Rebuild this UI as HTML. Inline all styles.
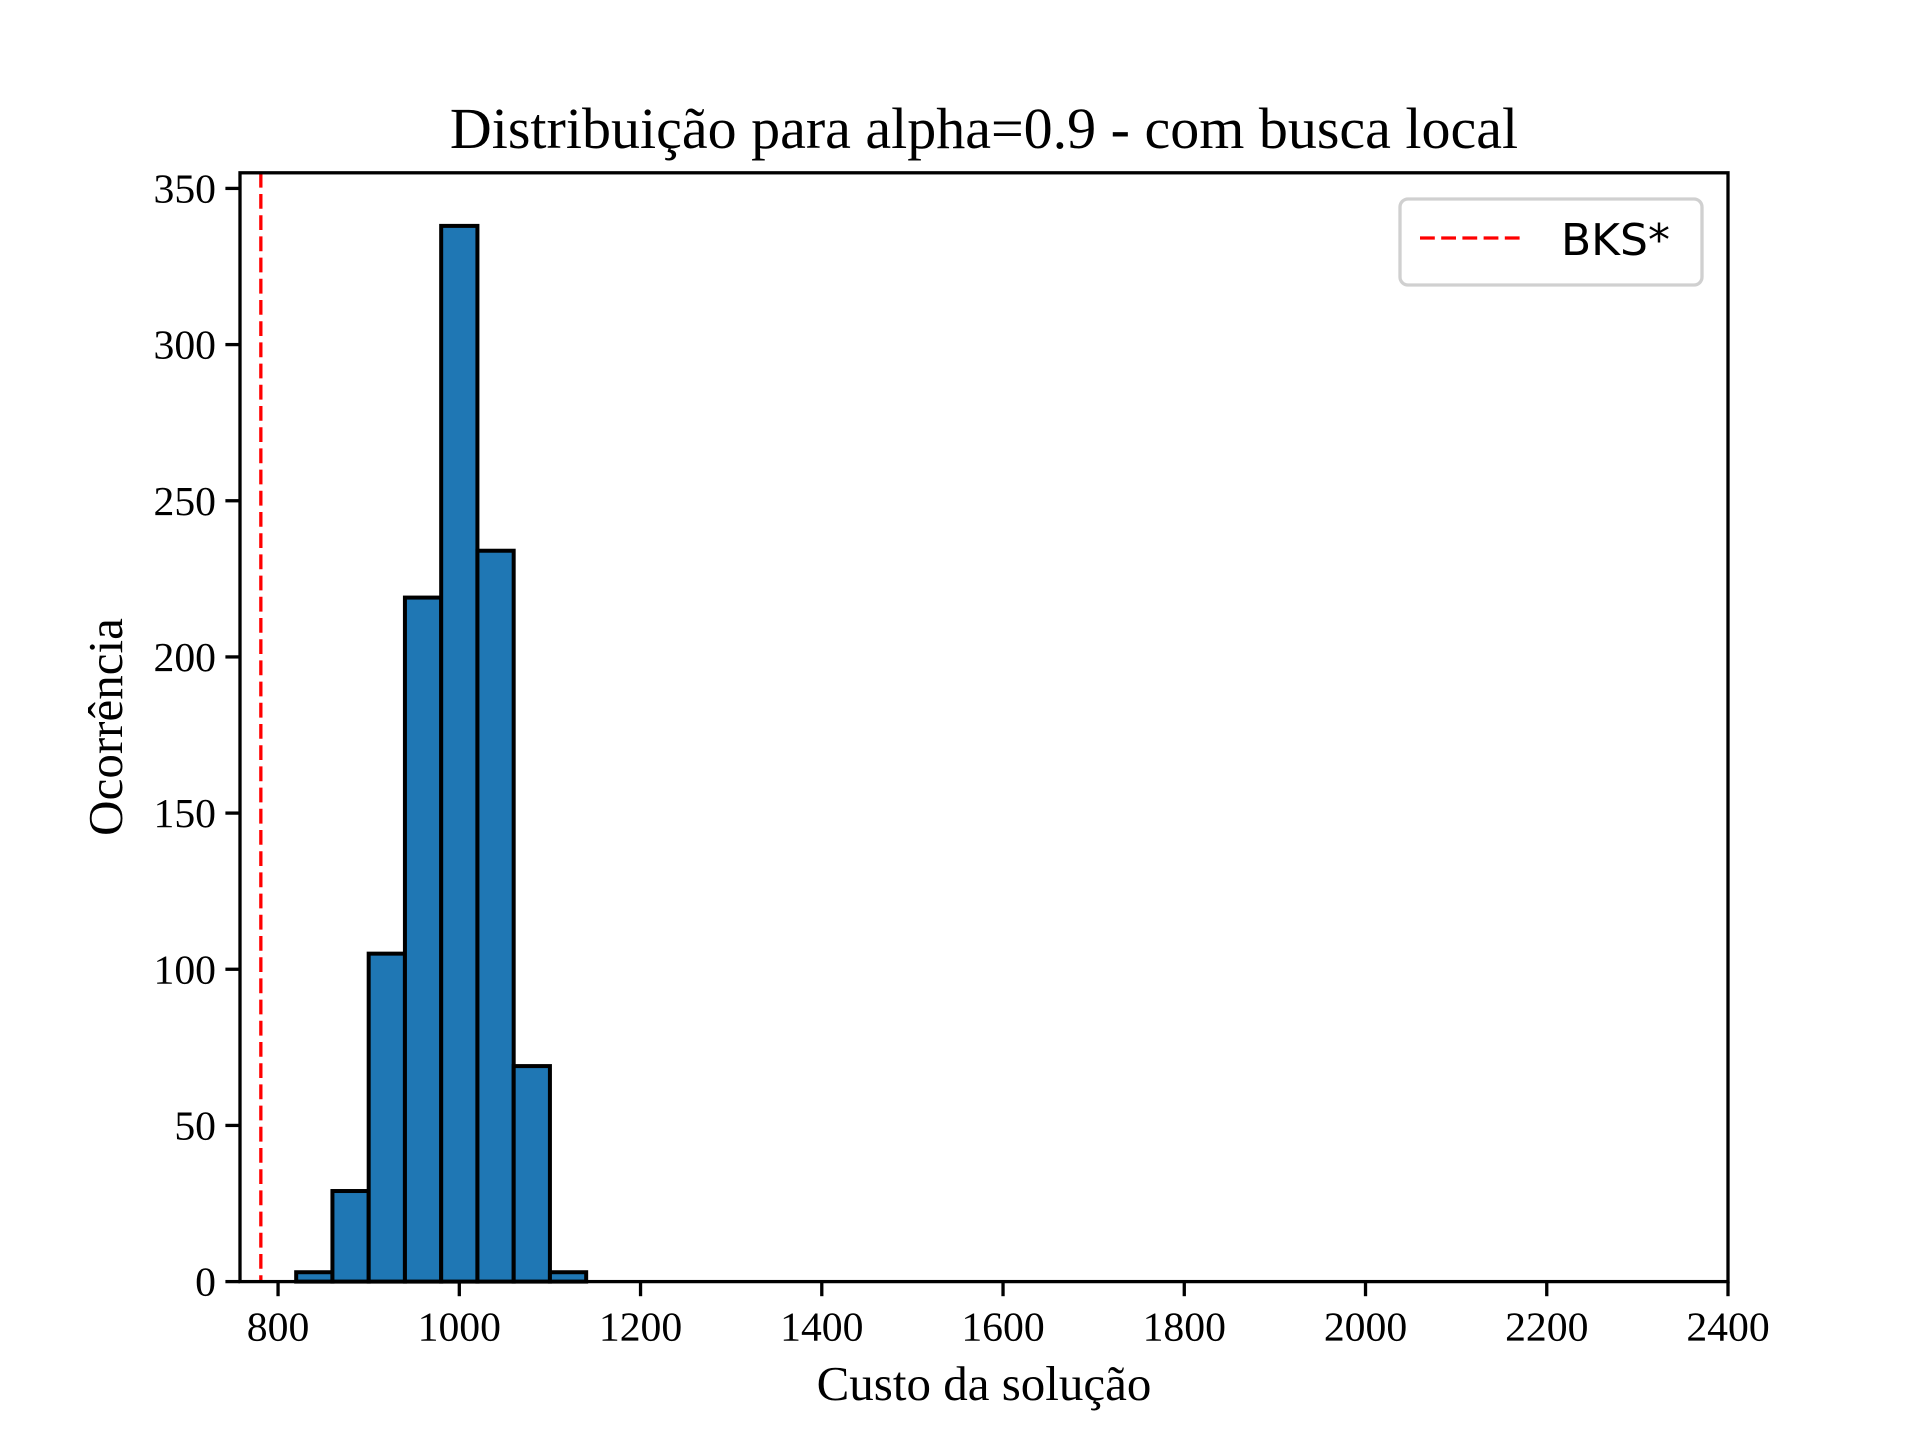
<!DOCTYPE html>
<html><head><meta charset="utf-8"><style>html,body{margin:0;padding:0;background:#fff}svg{display:block}</style></head>
<body>
<svg id="chart" width="1920" height="1440" viewBox="0 0 1920 1440" xmlns="http://www.w3.org/2000/svg" font-family="'Liberation Serif', serif">
<rect width="1920" height="1440" fill="#fff"/>
<text x="984" y="148" font-size="58" text-anchor="middle">Distribuição para alpha=0.9 - com busca local</text>
<text x="984" y="1400" font-size="49" text-anchor="middle">Custo da solução</text>
<text transform="translate(122,727) rotate(-90)" font-size="49" text-anchor="middle">Ocorrência</text>
<g id="bars"></g>
<g id="ticks"></g>
<line id="bks" stroke="#ff0000" stroke-width="3.3" stroke-dasharray="14.8,6.4"/>
<rect x="240" y="172.8" width="1488" height="1108.8" fill="none" stroke="#000" stroke-width="3.3"/>
<g>
<rect x="1400" y="199" width="302" height="86" rx="8" fill="#fff" stroke="#d0d0d0" stroke-width="3.3"/>
<line x1="1420" y1="238" x2="1520" y2="238" stroke="#ff0000" stroke-width="3.3" stroke-dasharray="14.8,6.4"/>
<text x="1561" y="255" font-size="44" font-family="'DejaVu Sans', sans-serif">BKS*</text>
</g>
</svg>
<script>
const binStart = 820;
const binWidth = 40;
const counts = [3, 29, 105, 219, 338, 234, 69, 3, 0,0,0,0,0,0,0,0,0,0,0,0,0,0,0,0,0,0,0,0,0,0,0,0,0,0,0,0,0,0,0];
const xTicks = [800,1000,1200,1400,1600,1800,2000,2200,2400];
const yTicks = [0,50,100,150,200,250,300,350];
const bksValue = 781;
const X0=240,X1=1728,Y0=1281.6,Y1=172.8, xmin=758, xmax=2400, ymin=0, ymax=355;
const sx=v=>X0+(v-xmin)/(xmax-xmin)*(X1-X0);
const sy=v=>Y0-(v-ymin)/(ymax-ymin)*(Y0-Y1);
const NS='http://www.w3.org/2000/svg';
const bars=document.getElementById('bars');
counts.forEach((c,i)=>{
  const r=document.createElementNS(NS,'rect');
  const a=sx(binStart+i*binWidth), b=sx(binStart+(i+1)*binWidth);
  r.setAttribute('x',a); r.setAttribute('width',b-a);
  r.setAttribute('y',sy(c)); r.setAttribute('height',sy(0)-sy(c));
  r.setAttribute('fill','#1f77b4'); r.setAttribute('stroke','#000'); r.setAttribute('stroke-width','4');
  
  
  bars.appendChild(r);
});
const tk=document.getElementById('ticks');
xTicks.forEach(v=>{
  const l=document.createElementNS(NS,'line');
  l.setAttribute('x1',sx(v));l.setAttribute('x2',sx(v));l.setAttribute('y1',Y0);l.setAttribute('y2',Y0+14.6);
  l.setAttribute('stroke','#000');l.setAttribute('stroke-width','3.3');
  
  
  tk.appendChild(l);
  const t=document.createElementNS(NS,'text');
  t.setAttribute('x',sx(v));t.setAttribute('y',Y0+59);t.setAttribute('font-size','41.7');t.setAttribute('text-anchor','middle');
  t.textContent=v;
  
  
  tk.appendChild(t);
});
yTicks.forEach(v=>{
  const l=document.createElementNS(NS,'line');
  l.setAttribute('x1',X0-14.6);l.setAttribute('x2',X0);l.setAttribute('y1',sy(v));l.setAttribute('y2',sy(v));
  l.setAttribute('stroke','#000');l.setAttribute('stroke-width','3.3');
  
  
  tk.appendChild(l);
  const t=document.createElementNS(NS,'text');
  t.setAttribute('x',X0-24);t.setAttribute('y',sy(v)+14);t.setAttribute('font-size','41.7');t.setAttribute('text-anchor','end');
  t.textContent=v;
  
  
  tk.appendChild(t);
});
const bk=document.getElementById('bks');
bk.setAttribute('x1',sx(bksValue));bk.setAttribute('x2',sx(bksValue));bk.setAttribute('y1',Y1);bk.setAttribute('y2',Y0);
</script>
</body></html>
